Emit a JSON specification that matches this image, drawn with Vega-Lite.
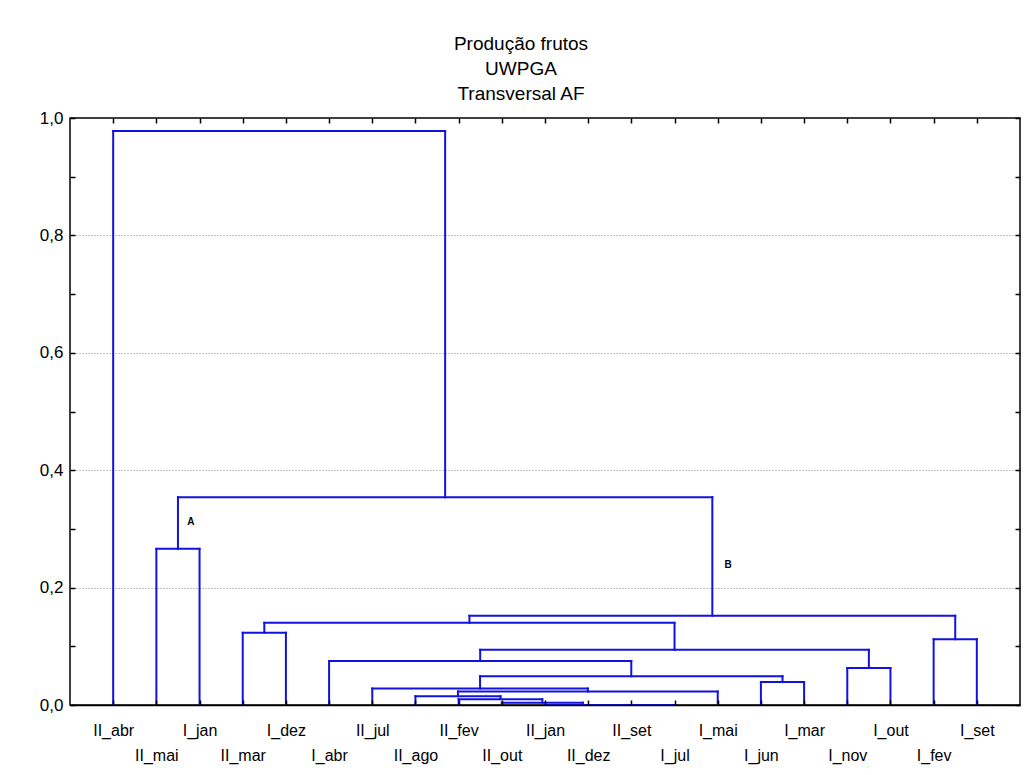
{
  "$schema": "https://vega.github.io/schema/vega-lite/v6.json",
  "width": 950,
  "height": 587,
  "autosize": {"type": "none"},
  "padding": {"left": 70, "top": 118, "right": 6, "bottom": 70},
  "background": "white",
  "title": {
    "text": ["Produção frutos", "UWPGA", "Transversal AF"],
    "anchor": "middle",
    "dx": -24,
    "offset": 5,
    "fontSize": 19,
    "fontWeight": "normal",
    "font": "Liberation Sans",
    "color": "black",
    "lineHeight": 25
  },
  "config": {
    "view": {"stroke": "black", "strokeWidth": 1.5},
    "text": {"font": "Liberation Sans"}
  },
  "datasets": {
    "merges": [
      {"node": "c1", "lx": 13, "rx": 14, "lh": 0, "rh": 0, "h": 0},
      {"node": "c2", "lx": 12, "rx": 13.5, "lh": 0, "rh": 0, "h": 0},
      {"node": "c3", "lx": 11, "rx": 12.75, "lh": 0, "rh": 0, "h": 0},
      {"node": "Z", "lx": 10, "rx": 11.875, "lh": 0, "rh": 0, "h": 0.004},
      {"node": "Y", "lx": 9, "rx": 10.9375, "lh": 0, "rh": 0.004, "h": 0.010},
      {"node": "X", "lx": 8, "rx": 9.96875, "lh": 0, "rh": 0.010, "h": 0.015},
      {"node": "W", "lx": 8.984375, "rx": 15, "lh": 0.015, "rh": 0, "h": 0.023},
      {"node": "V", "lx": 7, "rx": 11.9921875, "lh": 0, "rh": 0.023, "h": 0.028},
      {"node": "U", "lx": 16, "rx": 17, "lh": 0, "rh": 0, "h": 0.039},
      {"node": "T", "lx": 9.49609375, "rx": 16.5, "lh": 0.028, "rh": 0.039, "h": 0.049},
      {"node": "N", "lx": 18, "rx": 19, "lh": 0, "rh": 0, "h": 0.063},
      {"node": "S", "lx": 6, "rx": 12.998046875, "lh": 0, "rh": 0.049, "h": 0.075},
      {"node": "R", "lx": 9.4990234375, "rx": 18.5, "lh": 0.075, "rh": 0.063, "h": 0.094},
      {"node": "F", "lx": 20, "rx": 21, "lh": 0, "rh": 0, "h": 0.112},
      {"node": "M", "lx": 4, "rx": 5, "lh": 0, "rh": 0, "h": 0.123},
      {"node": "Q", "lx": 4.5, "rx": 13.99951171875, "lh": 0.123, "rh": 0.094, "h": 0.140},
      {"node": "P", "lx": 9.249755859375, "rx": 20.5, "lh": 0.140, "rh": 0.112, "h": 0.152},
      {"node": "A", "lx": 2, "rx": 3, "lh": 0, "rh": 0, "h": 0.266},
      {"node": "B", "lx": 2.5, "rx": 14.8748779296875, "lh": 0.266, "rh": 0.152, "h": 0.354},
      {"node": "root", "lx": 1, "rx": 8.68743896484375, "lh": 0, "rh": 0.354, "h": 0.978}
    ],
    "notes": [
      {"x": 2.8, "y": 0.312, "text": "A"},
      {"x": 15.24, "y": 0.238, "text": "B"}
    ]
  },
  "layer": [
    {
      "data": {"name": "merges"},
      "mark": {"type": "rule", "color": "#1212e0", "strokeWidth": 2, "strokeCap": "square"},
      "encoding": {
        "x": {
          "field": "lx", "type": "quantitative",
          "scale": {"domain": [0, 22], "nice": false, "zero": false},
          "axis": {
            "orient": "bottom",
            "values": [1, 2, 3, 4, 5, 6, 7, 8, 9, 10, 11, 12, 13, 14, 15, 16, 17, 18, 19, 20, 21],
            "title": null,
            "grid": false,
            "domain": true,
            "domainColor": "black",
            "domainWidth": 1.5,
            "tickSize": -5,
            "tickColor": "black",
            "tickWidth": 1.5,
            "labelExpr": "['', 'II_abr', 'II_mai', 'I_jan', 'II_mar', 'I_dez', 'I_abr', 'II_jul', 'II_ago', 'II_fev', 'II_out', 'II_jan', 'II_dez', 'II_set', 'I_jul', 'I_mai', 'I_jun', 'I_mar', 'I_nov', 'I_out', 'I_fev', 'I_set'][datum.value]",
            "labelFont": "Liberation Sans",
            "labelFontSize": 16,
            "labelColor": "black",
            "labelBaseline": "top",
            "labelAngle": 0,
            "labelFlush": false,
            "labelOverlap": false,
            "labelPadding": {"condition": {"test": "datum.value % 2 === 0", "value": 47}, "value": 22},
            "zindex": 1
          }
        },
        "x2": {"field": "rx"},
        "y": {
          "field": "h", "type": "quantitative",
          "scale": {"domain": [0, 1], "nice": false},
          "axis": {
            "orient": "left",
            "values": [0, 0.1, 0.2, 0.3, 0.4, 0.5, 0.6, 0.7, 0.8, 0.9, 1.0],
            "title": null,
            "domain": false,
            "tickSize": -5,
            "tickColor": "black",
            "tickWidth": 1.5,
            "labelExpr": "round(datum.value * 10) % 2 === 0 ? replace(format(datum.value, '.1f'), '.', ',') : ''",
            "labelFont": "Liberation Sans",
            "labelFontSize": 17,
            "labelColor": "black",
            "labelPadding": 12,
            "grid": true,
            "gridColor": "#888888",
            "gridDash": [1, 2],
            "gridWidth": 1,
            "gridOpacity": {"condition": {"test": "datum.value > 0.05 && datum.value < 0.95 && round(datum.value * 10) % 2 === 0", "value": 1}, "value": 0}
          }
        }
      }
    },
    {
      "data": {"name": "merges"},
      "mark": {"type": "rule", "color": "#1212e0", "strokeWidth": 2, "strokeCap": "square"},
      "encoding": {
        "x": {
          "field": "lx", "type": "quantitative",
          "axis": {
            "orient": "top",
            "values": [1, 2, 3, 4, 5, 6, 7, 8, 9, 10, 11, 12, 13, 14, 15, 16, 17, 18, 19, 20, 21],
            "title": null, "labels": false, "domain": false, "grid": false,
            "tickSize": -5, "tickColor": "black", "tickWidth": 1.5
          }
        },
        "y": {
          "field": "lh", "type": "quantitative",
          "axis": {
            "orient": "right",
            "values": [0, 0.1, 0.2, 0.3, 0.4, 0.5, 0.6, 0.7, 0.8, 0.9, 1.0],
            "title": null, "labels": false, "domain": false, "grid": false,
            "tickSize": -5, "tickColor": "black", "tickWidth": 1.5
          }
        },
        "y2": {"field": "h"}
      }
    },
    {
      "data": {"name": "merges"},
      "mark": {"type": "rule", "color": "#1212e0", "strokeWidth": 2, "strokeCap": "square"},
      "encoding": {
        "x": {"field": "rx", "type": "quantitative", "axis": null},
        "y": {"field": "rh", "type": "quantitative", "axis": null},
        "y2": {"field": "h"}
      }
    },
    {
      "data": {"name": "notes"},
      "mark": {"type": "text", "fontSize": 10, "fontWeight": "bold", "color": "black", "align": "center", "baseline": "middle"},
      "encoding": {
        "x": {"field": "x", "type": "quantitative", "axis": null},
        "y": {"field": "y", "type": "quantitative", "axis": null},
        "text": {"field": "text"}
      }
    }
  ],
  "resolve": {"axis": {"x": "independent", "y": "independent"}}
}
